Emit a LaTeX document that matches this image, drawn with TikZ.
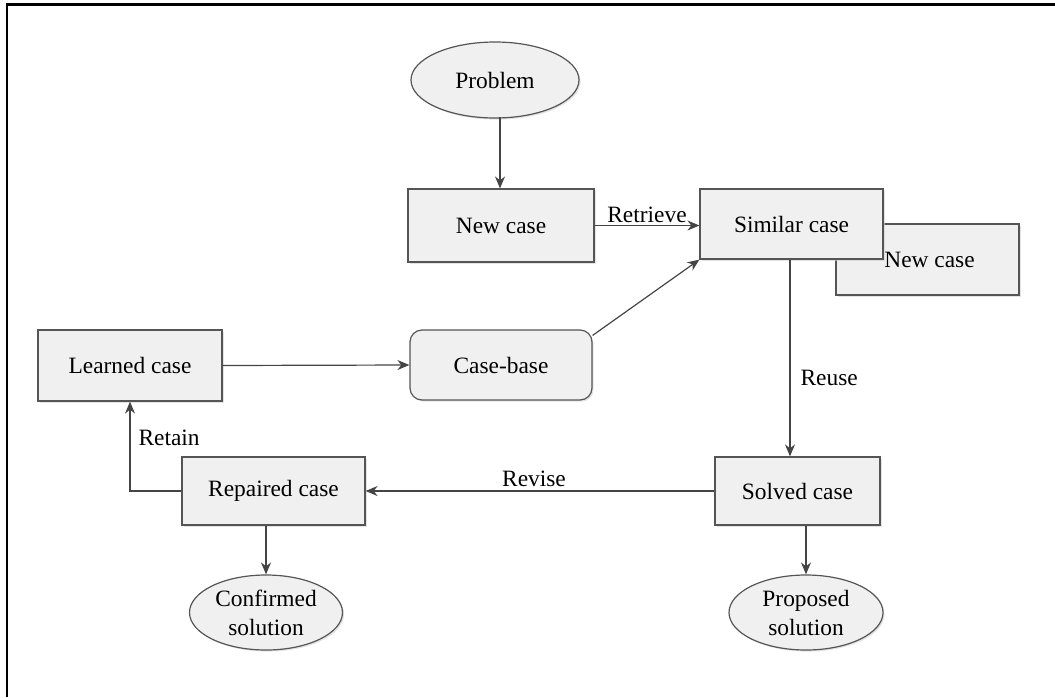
\documentclass[tikz,border=0pt]{standalone}
\usepackage{fontspec}
\setmainfont{Liberation Serif}
\usetikzlibrary{shapes.geometric,arrows.meta,shadows}
\definecolor{boxfill}{HTML}{F0F0F0}
\definecolor{boxline}{HTML}{555555}
\definecolor{arrcol}{HTML}{444444}
\tikzset{
  every node/.style={font=\fontsize{11.7}{14.5}\selectfont},
  sh/.style={drop shadow={shadow xshift=0.8pt,shadow yshift=-0.8pt,fill=black!18,opacity=0.6}},
  boxnode/.style={draw=boxline,fill=boxfill,line width=0.6pt,rectangle,inner sep=0pt,sh},
  roundbox/.style={boxnode,rounded corners=6pt},
  ellnode/.style={draw=boxline,fill=boxfill,line width=0.6pt,ellipse,inner sep=0pt,align=center,sh},
  arr/.style={draw=arrcol,line width=0.6pt,-{Stealth[length=6pt,width=5pt]}},
  lbl/.style={inner sep=1pt}
}
\begin{document}
\begin{tikzpicture}[x=0.5pt,y=-0.5pt]
\useasboundingbox (0,0) rectangle (1055,697);
\draw[line width=1.1pt,black] (7,697) -- (7,4.5) -- (1055,4.5);
% nodes
\node[ellnode,minimum width=84pt,minimum height=38pt] (problem) at (495,80) {Problem};
\node[boxnode,minimum width=93pt,minimum height=36.5pt] (newcase) at (501,225.5) {New case};
\node[boxnode,minimum width=91.5pt,minimum height=35.5pt] (newcase2) at (927.5,259.5) {\hspace*{2pt}New case};
\node[boxnode,minimum width=91.5pt,minimum height=35pt] (similar) at (791.5,224) {Similar case};
\node[boxnode,minimum width=92pt,minimum height=35.5pt] (learned) at (130,365.5) {Learned case};
\node[roundbox,minimum width=91pt,minimum height=35pt] (casebase) at (501,365) {Case-base};
\node[boxnode,minimum width=82.5pt,minimum height=34pt] (solved) at (797.5,491) {Solved case};
\node[boxnode,minimum width=91.5pt,minimum height=34pt] (repaired) at (273.5,491) {Repaired case};
\node[ellnode,minimum width=76.5pt,minimum height=37.5pt] (confirmed) at (266,612.5) {Confirmed\\solution};
\node[ellnode,minimum width=77pt,minimum height=37.5pt] (proposed) at (806,612.5) {Proposed\\solution};
% connectors
\coordinate (pb) at (500,117);
\draw[arr] (pb) -- (newcase.north -| pb);
\draw[arr] (newcase.east) -- node[lbl,above] {Retrieve} (newcase.east -| similar.west);
\draw[arr] (learned.east) -- (casebase.west);
\draw[arr] (casebase.north east) ++(0,6) coordinate (cbs) -- (similar.south west);
\coordinate (simb) at (790,258);
\draw[arr] (similar.south -| simb) -- node[lbl,right,pos=0.6,xshift=4pt] {Reuse} (solved.north -| simb);
\draw[arr] (solved.west) -- node[lbl,above,pos=0.5,xshift=-3pt,yshift=1pt] {Revise} (repaired.east);
\draw[arr] (repaired.west) -| node[lbl,pos=0.8,right,xshift=3pt] {Retain} (learned.south);
\draw[arr] (repaired.south -| confirmed.north) -- (confirmed.north);
\draw[arr] (solved.south -| proposed.north) -- (proposed.north);
\end{tikzpicture}
\end{document}
